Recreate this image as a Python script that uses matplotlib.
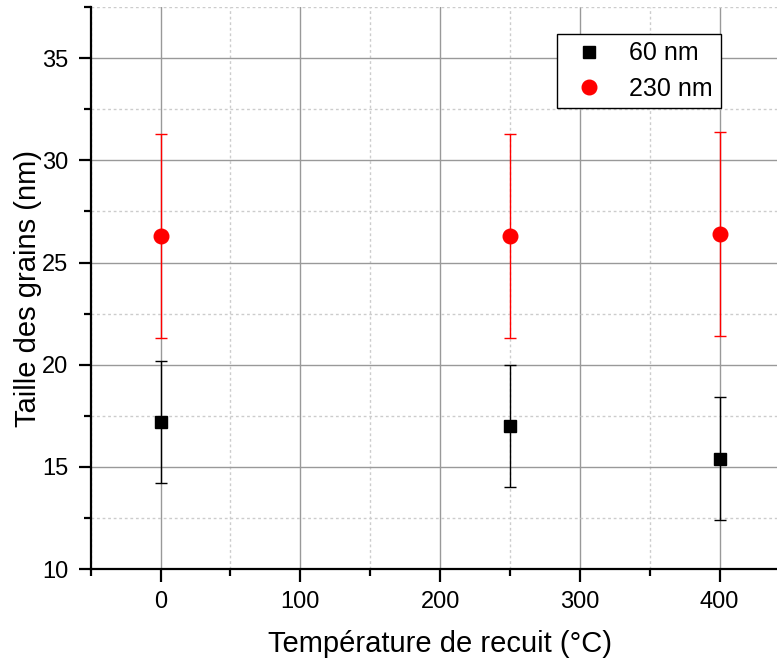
import matplotlib
matplotlib.use("Agg")
import matplotlib.pyplot as plt
from matplotlib.ticker import MultipleLocator
from matplotlib.lines import Line2D

plt.rcParams['font.family'] = ['Liberation Sans', 'DejaVu Sans']

temps = [0, 250, 400]
size_60 = [17.2, 17.0, 15.4]
err_60 = [3.0, 3.0, 3.0]
size_230 = [26.3, 26.3, 26.4]
err_230 = [5.0, 5.0, 5.0]
labels = ["60 nm", "230 nm"]

fig = plt.figure(figsize=(7.77, 6.58), dpi=100)
ax = fig.add_axes([90.7/777, 89/658, 698.75/777, 561.8/658])

ax.errorbar(temps, size_60, yerr=err_60, fmt='s', color='black', ms=9,
            ecolor='black', elinewidth=1.0, capsize=4, capthick=1.0, zorder=3)
ax.errorbar(temps, size_230, yerr=err_230, fmt='o', color='red', ms=10.5,
            ecolor='red', elinewidth=1.0, capsize=4, capthick=1.0, zorder=3)

ax.set_xlim(-50, 450)
ax.set_ylim(10, 37.5)
ax.xaxis.set_major_locator(MultipleLocator(100))
ax.xaxis.set_minor_locator(MultipleLocator(50))
ax.yaxis.set_major_locator(MultipleLocator(5))
ax.yaxis.set_minor_locator(MultipleLocator(2.5))

ax.grid(True, which='major', color='#999999', linewidth=1.0, linestyle='-', zorder=0)
ax.grid(True, which='minor', color='#cccccc', linewidth=1.0, linestyle=(0, (2, 2)), zorder=0)
ax.set_axisbelow(True)

for s in ['top', 'right']:
    ax.spines[s].set_visible(False)
for s in ['left', 'bottom']:
    ax.spines[s].set_linewidth(1.6)

ax.tick_params(which='major', direction='out', length=9, width=1.6, labelsize=17, pad=7)
ax.tick_params(which='minor', direction='out', length=5, width=1.6)

ax.set_xlabel("Température de recuit (°C)", fontsize=21, labelpad=12)
ax.set_ylabel("Taille des grains (nm)", fontsize=21, labelpad=0)

handles = [Line2D([], [], marker='s', color='black', linestyle='none', ms=9),
           Line2D([], [], marker='o', color='red', linestyle='none', ms=10.5)]
leg = ax.legend(handles, labels, loc='upper left',
                bbox_to_anchor=((557-90.7)/698.75, (569-34)/561.8),
                fontsize=18, frameon=True, fancybox=False, edgecolor='black',
                handletextpad=0.6, borderpad=0.3, labelspacing=0.45, handlelength=2.0,
                borderaxespad=0)
leg.get_frame().set_linewidth(1.0)
leg.get_frame().set_alpha(1.0)

fig.savefig("out.png", dpi=100)
